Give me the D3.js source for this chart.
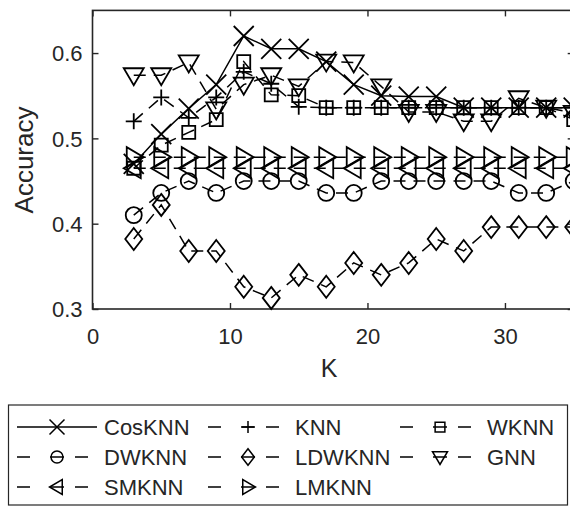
<!DOCTYPE html>
<html><head><meta charset="utf-8">
<script src="https://cdn.jsdelivr.net/npm/d3@7"></script>
<style>
html,body{margin:0;padding:0;background:#fff;overflow:hidden;}
svg text{font-family:"Liberation Sans",Arial,sans-serif;fill:#262626;}
</style></head>
<body>
<svg id="chart" width="570" height="506"></svg>
<script>
const K = [3,5,7,9,11,13,15,17,19,21,23,25,27,29,31,33,35];
const CosKNN = [0.47,0.505,0.535,0.563,0.62,0.605,0.605,0.59,0.563,0.55,0.549,0.549,0.536,0.536,0.536,0.536,0.536];
const KNN    = [0.52,0.548,0.524,0.548,0.578,0.564,0.537,0.536,0.536,0.536,0.536,0.536,0.536,0.536,0.536,0.536,0.536];
const WKNN   = [0.465,0.492,0.507,0.522,0.59,0.551,0.55,0.536,0.536,0.536,0.536,0.536,0.536,0.536,0.536,0.536,0.522];
const DWKNN  = [0.41,0.436,0.45,0.436,0.45,0.45,0.45,0.436,0.436,0.45,0.45,0.45,0.45,0.45,0.436,0.436,0.45];
const LDWKNN = [0.382,0.422,0.368,0.368,0.326,0.313,0.34,0.326,0.354,0.34,0.354,0.382,0.368,0.396,0.396,0.396,0.396];
const GNN    = [0.574,0.574,0.589,0.534,0.563,0.574,0.561,0.59,0.589,0.561,0.531,0.531,0.52,0.52,0.547,0.536,0.53];
const SMKNN  = [0.465,0.465,0.465,0.465,0.465,0.465,0.465,0.465,0.465,0.465,0.465,0.465,0.465,0.465,0.465,0.465,0.465];
const LMKNN  = [0.478,0.478,0.478,0.478,0.478,0.478,0.478,0.478,0.478,0.478,0.478,0.478,0.478,0.478,0.478,0.478,0.478];
const seriesNames = ["CosKNN","KNN","WKNN","DWKNN","LDWKNN","GNN","SMKNN","LMKNN"];
const seriesValues = [CosKNN,KNN,WKNN,DWKNN,LDWKNN,GNN,SMKNN,LMKNN];
const markerTypes = ["x","plus","square","circle","diamond","tridown","trileft","triright"];
const xTicks = [0,10,20,30];
const yTicks = [0.3,0.4,0.5,0.6];
const xDomain = [0,35];
const yDomain = [0.3,0.65];

const svg = d3.select("#chart");
const L = 92.5, R = 573.7, T = 10.4, B = 309;
const x = d3.scaleLinear().domain(xDomain).range([L,R]);
const y = d3.scaleLinear().domain(yDomain).range([B,T]);
const ink = "#262626";

function markerPath(type){
  const p = d3.path();
  switch(type){
    case "x": p.moveTo(-10,-10);p.lineTo(10,10);p.moveTo(-10,10);p.lineTo(10,-10);break;
    case "plus": p.moveTo(-8,0);p.lineTo(8,0);p.moveTo(0,-8);p.lineTo(0,8);break;
    case "square": p.rect(-6.5,-6.5,13,13);break;
    case "circle": p.moveTo(8,0);p.arc(0,0,8,0,2*Math.PI);break;
    case "diamond": p.moveTo(0,-11);p.lineTo(8.5,0);p.lineTo(0,11);p.lineTo(-8.5,0);p.closePath();break;
    case "tridown": p.moveTo(-10,-7);p.lineTo(10,-7);p.lineTo(0,10);p.closePath();break;
    case "trileft": p.moveTo(7,-10);p.lineTo(7,10);p.lineTo(-10,0);p.closePath();break;
    case "triright": p.moveTo(-7,-10);p.lineTo(-7,10);p.lineTo(10,0);p.closePath();break;
  }
  return p.toString();
}

// axes frame
svg.append("rect").attr("x",L).attr("y",T).attr("width",R-L).attr("height",B-T)
  .attr("fill","#fff").attr("stroke",ink).attr("stroke-width",1.6);

// ticks inward
const tl = 6;
const xAxB = d3.axisBottom(x).tickValues(xTicks).tickSize(-tl).tickPadding(tl+13).tickFormat(d3.format("d"));
const gxb = svg.append("g").attr("transform",`translate(0,${B})`).call(xAxB);
const xAxT = d3.axisTop(x).tickValues(xTicks).tickSize(-tl).tickFormat("");
const gxt = svg.append("g").attr("transform",`translate(0,${T})`).call(xAxT);
const yAxL = d3.axisLeft(y).tickValues(yTicks).tickSize(-tl).tickPadding(10).tickFormat(d3.format(".1f"));
const gyl = svg.append("g").attr("transform",`translate(${L},0)`).call(yAxL);
const yAxR = d3.axisRight(y).tickValues(yTicks).tickSize(-tl).tickFormat("");
const gyr = svg.append("g").attr("transform",`translate(${R},0)`).call(yAxR);
[gxb,gxt,gyl,gyr].forEach(g=>{
  g.select(".domain").remove();
  g.selectAll(".tick line").attr("stroke",ink).attr("stroke-width",1.4);
  g.selectAll("text").style("font-size","22px").attr("fill",ink);
});
gyl.selectAll("text").attr("dy","0.36em");

// axis labels
svg.append("text").attr("x",329).attr("y",377).attr("text-anchor","middle")
  .style("font-size","25px").text("K");
svg.append("text").attr("transform","translate(33,160) rotate(-90)").attr("text-anchor","middle")
  .style("font-size","26px").text("Accuracy");

// series
const plot = svg.append("g");
const line = d3.line().x((d,i)=>x(K[i])).y(d=>y(d));
seriesValues.forEach((vals,si)=>{
  plot.append("path").datum(vals).attr("d",line).attr("fill","none")
    .attr("stroke","#000").attr("stroke-width",1.5)
    .attr("stroke-dasharray", si===0 ? null : "12,8");
});
seriesValues.forEach((vals,si)=>{
  plot.selectAll(null).data(vals).enter().append("path")
    .attr("d",markerPath(markerTypes[si]))
    .attr("transform",(d,i)=>`translate(${x(K[i])},${y(d)})`)
    .attr("fill","none").attr("stroke","#000").attr("stroke-width",1.8);
});

// legend
svg.append("rect").attr("x",8.5).attr("y",405).attr("width",559).attr("height",100)
  .attr("fill","#fff").attr("stroke",ink).attr("stroke-width",1.2);
const colX = [17,208,400];
const rowY = [427,457,487];
seriesNames.forEach((name,i)=>{
  const c = i%3, r = Math.floor(i/3);
  const x0 = colX[c], yy = rowY[r];
  const g = svg.append("g");
  if(i===0){
    g.append("line").attr("x1",x0).attr("x2",x0+80).attr("y1",yy).attr("y2",yy)
      .attr("stroke","#000").attr("stroke-width",1.5);
  } else {
    g.append("line").attr("x1",x0).attr("x2",x0+71).attr("y1",yy).attr("y2",yy)
      .attr("stroke","#000").attr("stroke-width",1.5).attr("stroke-dasharray","13,20,14,11,13,100");
  }
  g.append("path").attr("d",markerPath(markerTypes[i]))
    .attr("transform",`translate(${x0+40},${yy}) scale(0.75)`)
    .attr("fill","none").attr("stroke","#000").attr("stroke-width",2);
  g.append("text").attr("x",x0+87).attr("y",yy+8).style("font-size","22px").text(name);
});
</script>
</body></html>
